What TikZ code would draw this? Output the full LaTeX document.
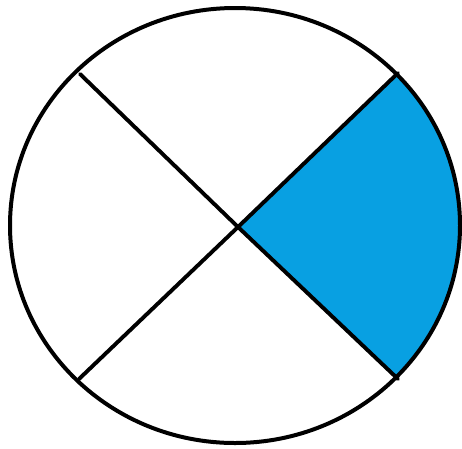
\documentclass[tikz,border=0pt]{standalone}
\definecolor{wedgeblue}{RGB}{8,160,226}
\begin{document}
\begin{tikzpicture}[x=1pt,y=-1pt,
  edge/.style={line width=3.9pt,line cap=round,black},
  rim/.style={line width=4pt,black}]
\useasboundingbox (0,0) rectangle (462,448);
\fill[white] (0,0) rectangle (462,448);
\coordinate (o) at (235,225.5);
\coordinate (c) at (238,227);
\coordinate (ul) at (80,74);
\coordinate (ur) at (398,73);
\coordinate (ll) at (79,379);
\coordinate (lr) at (398,379);
\begin{scope}
  \clip (c) -- (494,-19) -- (494,470) -- cycle;
  \fill[wedgeblue] (o) ellipse [x radius=225, y radius=217.5];
\end{scope}
\draw[edge] (ul) -- (c) -- (lr);
\draw[edge] (ll) -- (c) -- (ur);
\draw[rim] (o) ellipse [x radius=225, y radius=217.5];
\end{tikzpicture}
\end{document}
